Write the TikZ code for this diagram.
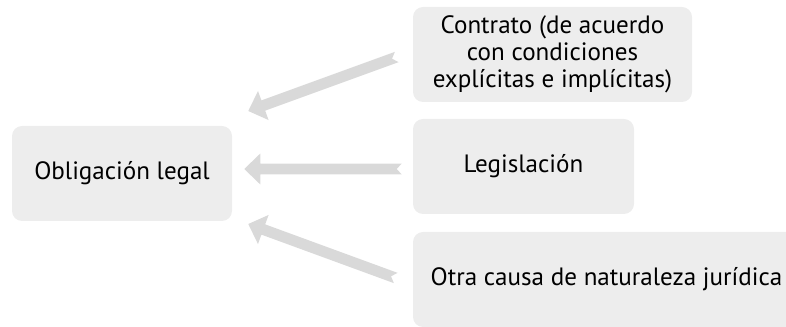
\documentclass[tikz,border=0pt]{standalone}
\usepackage{fontspec}
\setmainfont{PT Sans}
\usetikzlibrary{calc}

\definecolor{boxgray}{HTML}{EDEDED}
\definecolor{arrowgray}{HTML}{D9D9D9}

% block arrow from tail #1 to tip #2, notched tail
\newcommand{\blockarrow}[2]{%
  \fill[arrowfill]
    (#2)
    -- ($(#2)!12pt!(#1)!11.6pt!90:(#1)$)
    -- ($(#2)!12pt!(#1)!4.1pt!90:(#1)$)
    -- ($(#1)!4.1pt!-90:(#2)$)
    -- ($(#1)!3.75pt!(#2)$)
    -- ($(#1)!4.1pt!90:(#2)$)
    -- ($(#2)!12pt!(#1)!4.1pt!-90:(#1)$)
    -- ($(#2)!12pt!(#1)!11.6pt!-90:(#1)$)
    -- cycle;}

\begin{document}
\begin{tikzpicture}[
  x=0.75pt, y=-0.75pt,
  box/.style={fill=boxgray, rounded corners=7.5pt, minimum height=71.25pt,
    align=center, font=\fontsize{18.8}{20}\selectfont, inner sep=0pt},
  arrowfill/.style={fill=arrowgray}
]

\useasboundingbox (0,0) rectangle (786,327);

% ------------------------------------------------------------
% Boxes
% ------------------------------------------------------------
\node[box, minimum width=165pt] (oblig) at (122,173.5) {Obligación legal};

\node[box, minimum width=209.25pt] (contrato) at (552.5,54.5)
  {Contrato (de acuerdo\\con condiciones\\explícitas e implícitas)};

\node[box, minimum width=165.75pt] (legis) at (523.5,166.5) {Legislación};

\begin{scope}
  \clip (0,0) rectangle (786,327);
  \node[box, minimum width=290.25pt] (otra) at (606.5,279.5)
    {Otra causa de naturaleza jurídica};
\end{scope}

% ------------------------------------------------------------
% Arrows
% ------------------------------------------------------------
\coordinate (contrato-tail) at ($(contrato.west)+(-16,2.5)$);
\coordinate (contrato-tip)  at ($(oblig.east)+(16,-62.5)$);
\coordinate (legis-tail)    at ($(legis.west)+(-11,2.5)$);
\coordinate (legis-tip)     at ($(oblig.east)+(12,-4.5)$);
\coordinate (otra-tail)     at ($(otra.west)+(-17,-1.5)$);
\coordinate (otra-tip)      at ($(oblig.east)+(16,50.5)$);

\blockarrow{contrato-tail}{contrato-tip}
\blockarrow{legis-tail}{legis-tip}
\blockarrow{otra-tail}{otra-tip}

\end{tikzpicture}
\end{document}
